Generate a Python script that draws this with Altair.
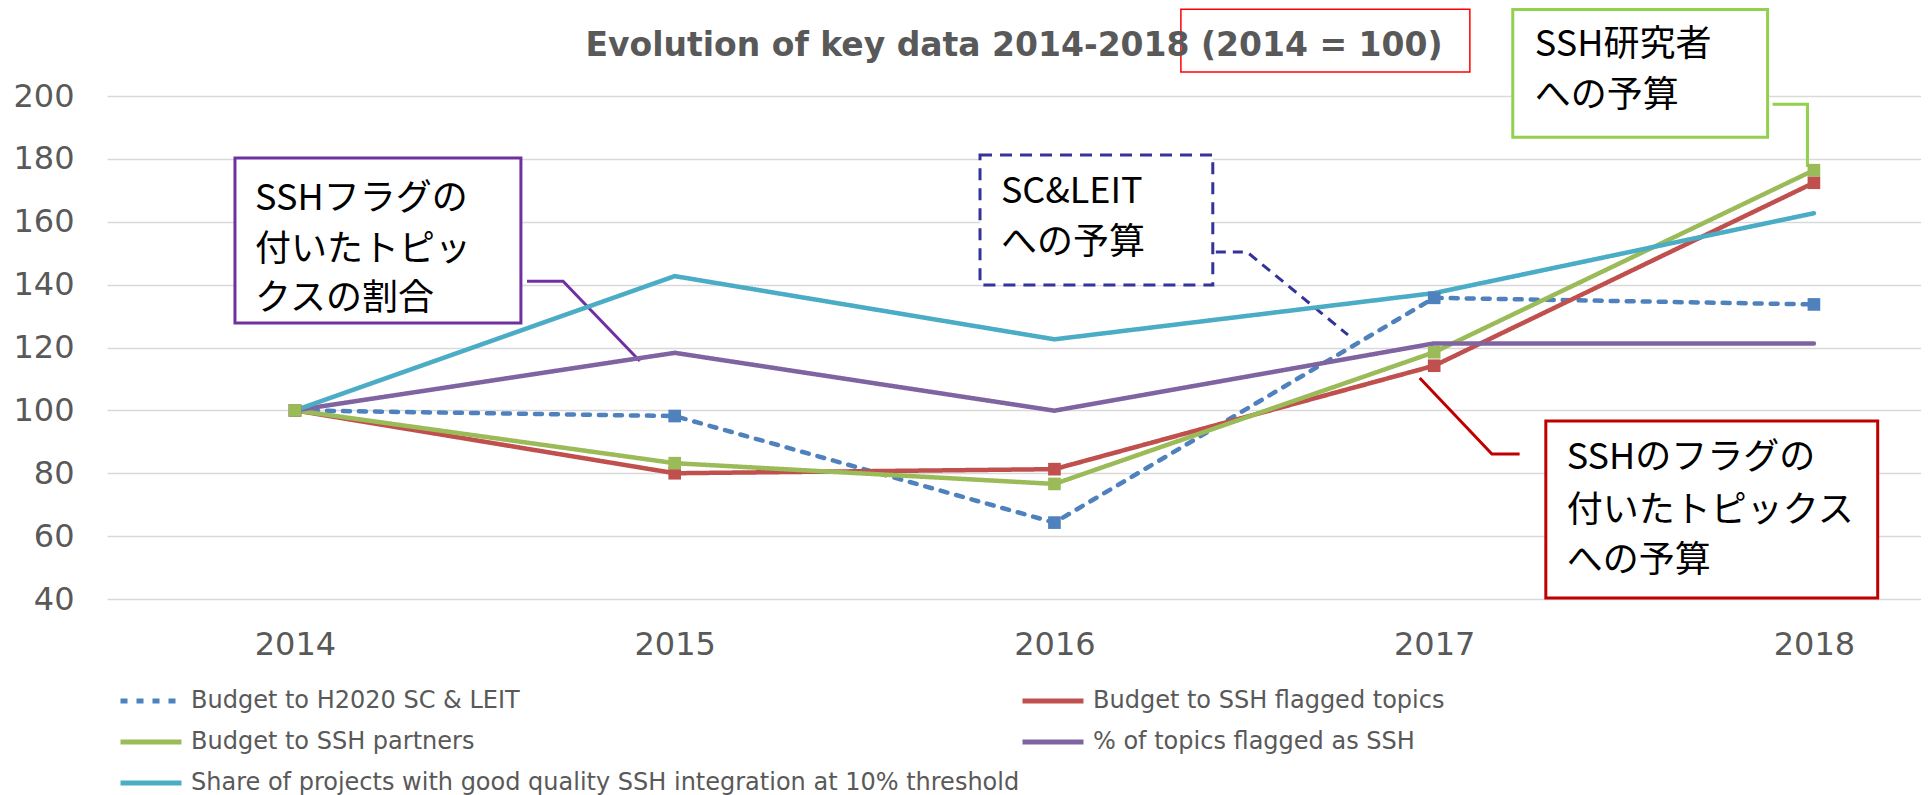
import altair as alt
import pandas as pd

# ---------------- data ----------------
years = [2014, 2015, 2016, 2017, 2018]
series_names = [
    "Budget to H2020 SC & LEIT",
    "Budget to SSH flagged topics",
    "Budget to SSH partners",
    "% of topics flagged as SSH",
    "Share of projects with good quality SSH integration at 10% threshold",
]
sc_leit = [100, 98.2, 64.3, 135.8, 133.7]
ssh_flagged = [100, 80.0, 81.3, 114.2, 172.4]
ssh_partners = [100, 83.2, 76.6, 118.5, 176.4]
pct_topics = [100, 118.3, 99.9, 121.3, 121.3]
share_projects = [100, 142.7, 122.6, 137.3, 162.7]
series_values = [sc_leit, ssh_flagged, ssh_partners, pct_topics, share_projects]
series_colors = ["#4F81BD", "#C0504D", "#9BBB59", "#8064A2", "#4BACC6"]
series_dash = [[7, 9], [1, 0], [1, 0], [1, 0], [1, 0]]
marker_series = series_names[:3]
y_ticks = [40, 60, 80, 100, 120, 140, 160, 180, 200]
title_text = "Evolution of key data 2014-2018 (2014 = 100)"

rows = []
for name, vals in zip(series_names, series_values):
    for yr, v in zip(years, vals):
        rows.append({"year": yr, "value": v, "series": name})
df = pd.DataFrame(rows)

# ---------------- annotations (in data units: year / index value) ----------------
box_x = [2013.842, 2017.207, 2017.294]
box_x2 = [2014.595, 2017.878, 2018.168]
box_y = [180.3, 227.5, 96.6]
box_y2 = [127.8, 186.9, 40.3]
box_color = ["#7030A0", "#92D050", "#C00000"]
boxes = pd.DataFrame({"year": box_x, "year2": box_x2, "value": box_y, "value2": box_y2, "c": box_color})

dbox = pd.DataFrame({"year": [2015.804], "year2": [2016.417], "value": [181.2], "value2": [139.9], "c": ["#333399"]})
tbox = pd.DataFrame({"year": [2016.333], "year2": [2017.094], "value": [227.6], "value2": [207.6], "c": ["#FF0000"]})

leader_id = ["p", "p", "p", "g", "g", "g", "r", "r", "r"]
leader_ord = [0, 1, 2, 0, 1, 2, 0, 1, 2]
leader_x = [2014.611, 2014.706, 2014.908, 2017.891, 2017.983, 2017.983, 2017.225, 2017.152, 2016.962]
leader_y = [141.1, 141.1, 115.7, 197.4, 197.4, 177.4, 86.1, 86.1, 110.3]
leader_c = ["#7030A0"] * 3 + ["#92D050"] * 3 + ["#C00000"] * 3
leaders = pd.DataFrame({"id": leader_id, "ord": leader_ord, "year": leader_x, "value": leader_y, "c": leader_c})

dleader = pd.DataFrame({"id": ["n"] * 3, "ord": [0, 1, 2],
                        "year": [2016.425, 2016.507, 2016.773],
                        "value": [150.4, 150.4, 124.0], "c": ["#333399"] * 3})

note_text = ["SSHフラグの", "付いたトピッ", "クスの割合",
             "SC&LEIT", "への予算",
             "SSH研究者", "への予算",
             "SSHのフラグの", "付いたトピックス", "への予算"]
note_x = [2013.895] * 3 + [2015.859] * 2 + [2017.265] * 2 + [2017.349] * 3
note_y = [167.2, 151.0, 135.4, 169.5, 153.2, 216.2, 200.0, 84.8, 68.0, 52.1]
notes = pd.DataFrame({"year": note_x, "value": note_y, "t": note_text})

# ---------------- scales / axes ----------------
GREY = "#595959"
xscale = alt.Scale(domain=[2013.505, 2018.282], nice=False, zero=False)
yscale = alt.Scale(domain=[40, 200], nice=False, zero=False)

x_axis = alt.Axis(values=years, format="d", title=None, grid=False, domain=False, ticks=False,
                  labelFont="DejaVu Sans", labelFontSize=32, labelColor=GREY, labelPadding=30)
y_axis = alt.Axis(values=y_ticks, title=None, grid=True, gridColor="#D9D9D9", gridWidth=1.5,
                  domain=False, ticks=False, labelFont="DejaVu Sans", labelFontSize=32,
                  labelColor=GREY, labelPadding=33)

legend = alt.Legend(title=None, orient="none", legendX=11, legendY=593, columns=2,
                    direction="horizontal",
                    symbolType="stroke", symbolSize=3721, symbolStrokeWidth=5,
                    labelFont="DejaVu Sans", labelFontSize=24, labelColor=GREY,
                    labelLimit=2000, labelOffset=7, columnPadding=0, rowPadding=17,
                    clipHeight=24, padding=0, symbolOffset=0)

color_scale = alt.Scale(domain=series_names, range=series_colors)
dash_scale = alt.Scale(domain=series_names, range=series_dash)

X = lambda: alt.X("year:Q", scale=xscale, axis=x_axis)
Y = lambda: alt.Y("value:Q", scale=yscale, axis=y_axis)

box_layer = alt.Chart(boxes).mark_rect(fill="white", strokeWidth=3).encode(
    x=X(), x2="year2:Q", y=Y(), y2="value2:Q", stroke=alt.Stroke("c:N", scale=None))
dbox_layer = alt.Chart(dbox).mark_rect(fill="white", strokeWidth=3, strokeDash=[12, 8]).encode(
    x=X(), x2="year2:Q", y=Y(), y2="value2:Q", stroke=alt.Stroke("c:N", scale=None))
tbox_layer = alt.Chart(tbox).mark_rect(filled=False, strokeWidth=1.5).encode(
    x=X(), x2="year2:Q", y=Y(), y2="value2:Q", stroke=alt.Stroke("c:N", scale=None))

leader_layer = alt.Chart(leaders).mark_line(strokeWidth=3).encode(
    x=X(), y=Y(), detail="id:N", order="ord:Q", stroke=alt.Stroke("c:N", scale=None))
dleader_layer = alt.Chart(dleader).mark_line(strokeWidth=3, strokeDash=[10, 7]).encode(
    x=X(), y=Y(), detail="id:N", order="ord:Q", stroke=alt.Stroke("c:N", scale=None))

lines = alt.Chart(df).mark_line(strokeWidth=4.5, strokeCap="round").encode(
    x=X(), y=Y(),
    color=alt.Color("series:N", scale=color_scale, legend=legend, sort=series_names),
    strokeDash=alt.StrokeDash("series:N", scale=dash_scale, legend=legend, sort=series_names),
)

markers = alt.Chart(df).transform_filter(
    alt.FieldOneOfPredicate(field="series", oneOf=marker_series)
).mark_square(size=160, opacity=1, filled=True).encode(
    x=X(), y=Y(),
    color=alt.Color("series:N", scale=color_scale, legend=None),
)

text_layer = alt.Chart(notes).mark_text(align="left", baseline="middle", font="Noto Sans CJK JP",
                                        fontSize=36, color="black").encode(
    x=X(), y=Y(), text="t:N")

chart = alt.layer(
    box_layer, dbox_layer, tbox_layer, leader_layer, dleader_layer, lines, markers, text_layer
).properties(
    width=1814, height=503,
    autosize=alt.AutoSizeParams(type="none"),
    padding={"left": 99, "top": 88, "right": 0, "bottom": 196},
    background="white",
    title=alt.TitleParams(title_text, font="DejaVu Sans", fontSize=33, fontWeight="bold",
                          color=GREY, anchor="middle", frame="group", baseline="alphabetic",
                          offset=-81),
).configure_view(stroke=None)

chart.save("out.html", embed_options={"renderer": "svg", "actions": False})
